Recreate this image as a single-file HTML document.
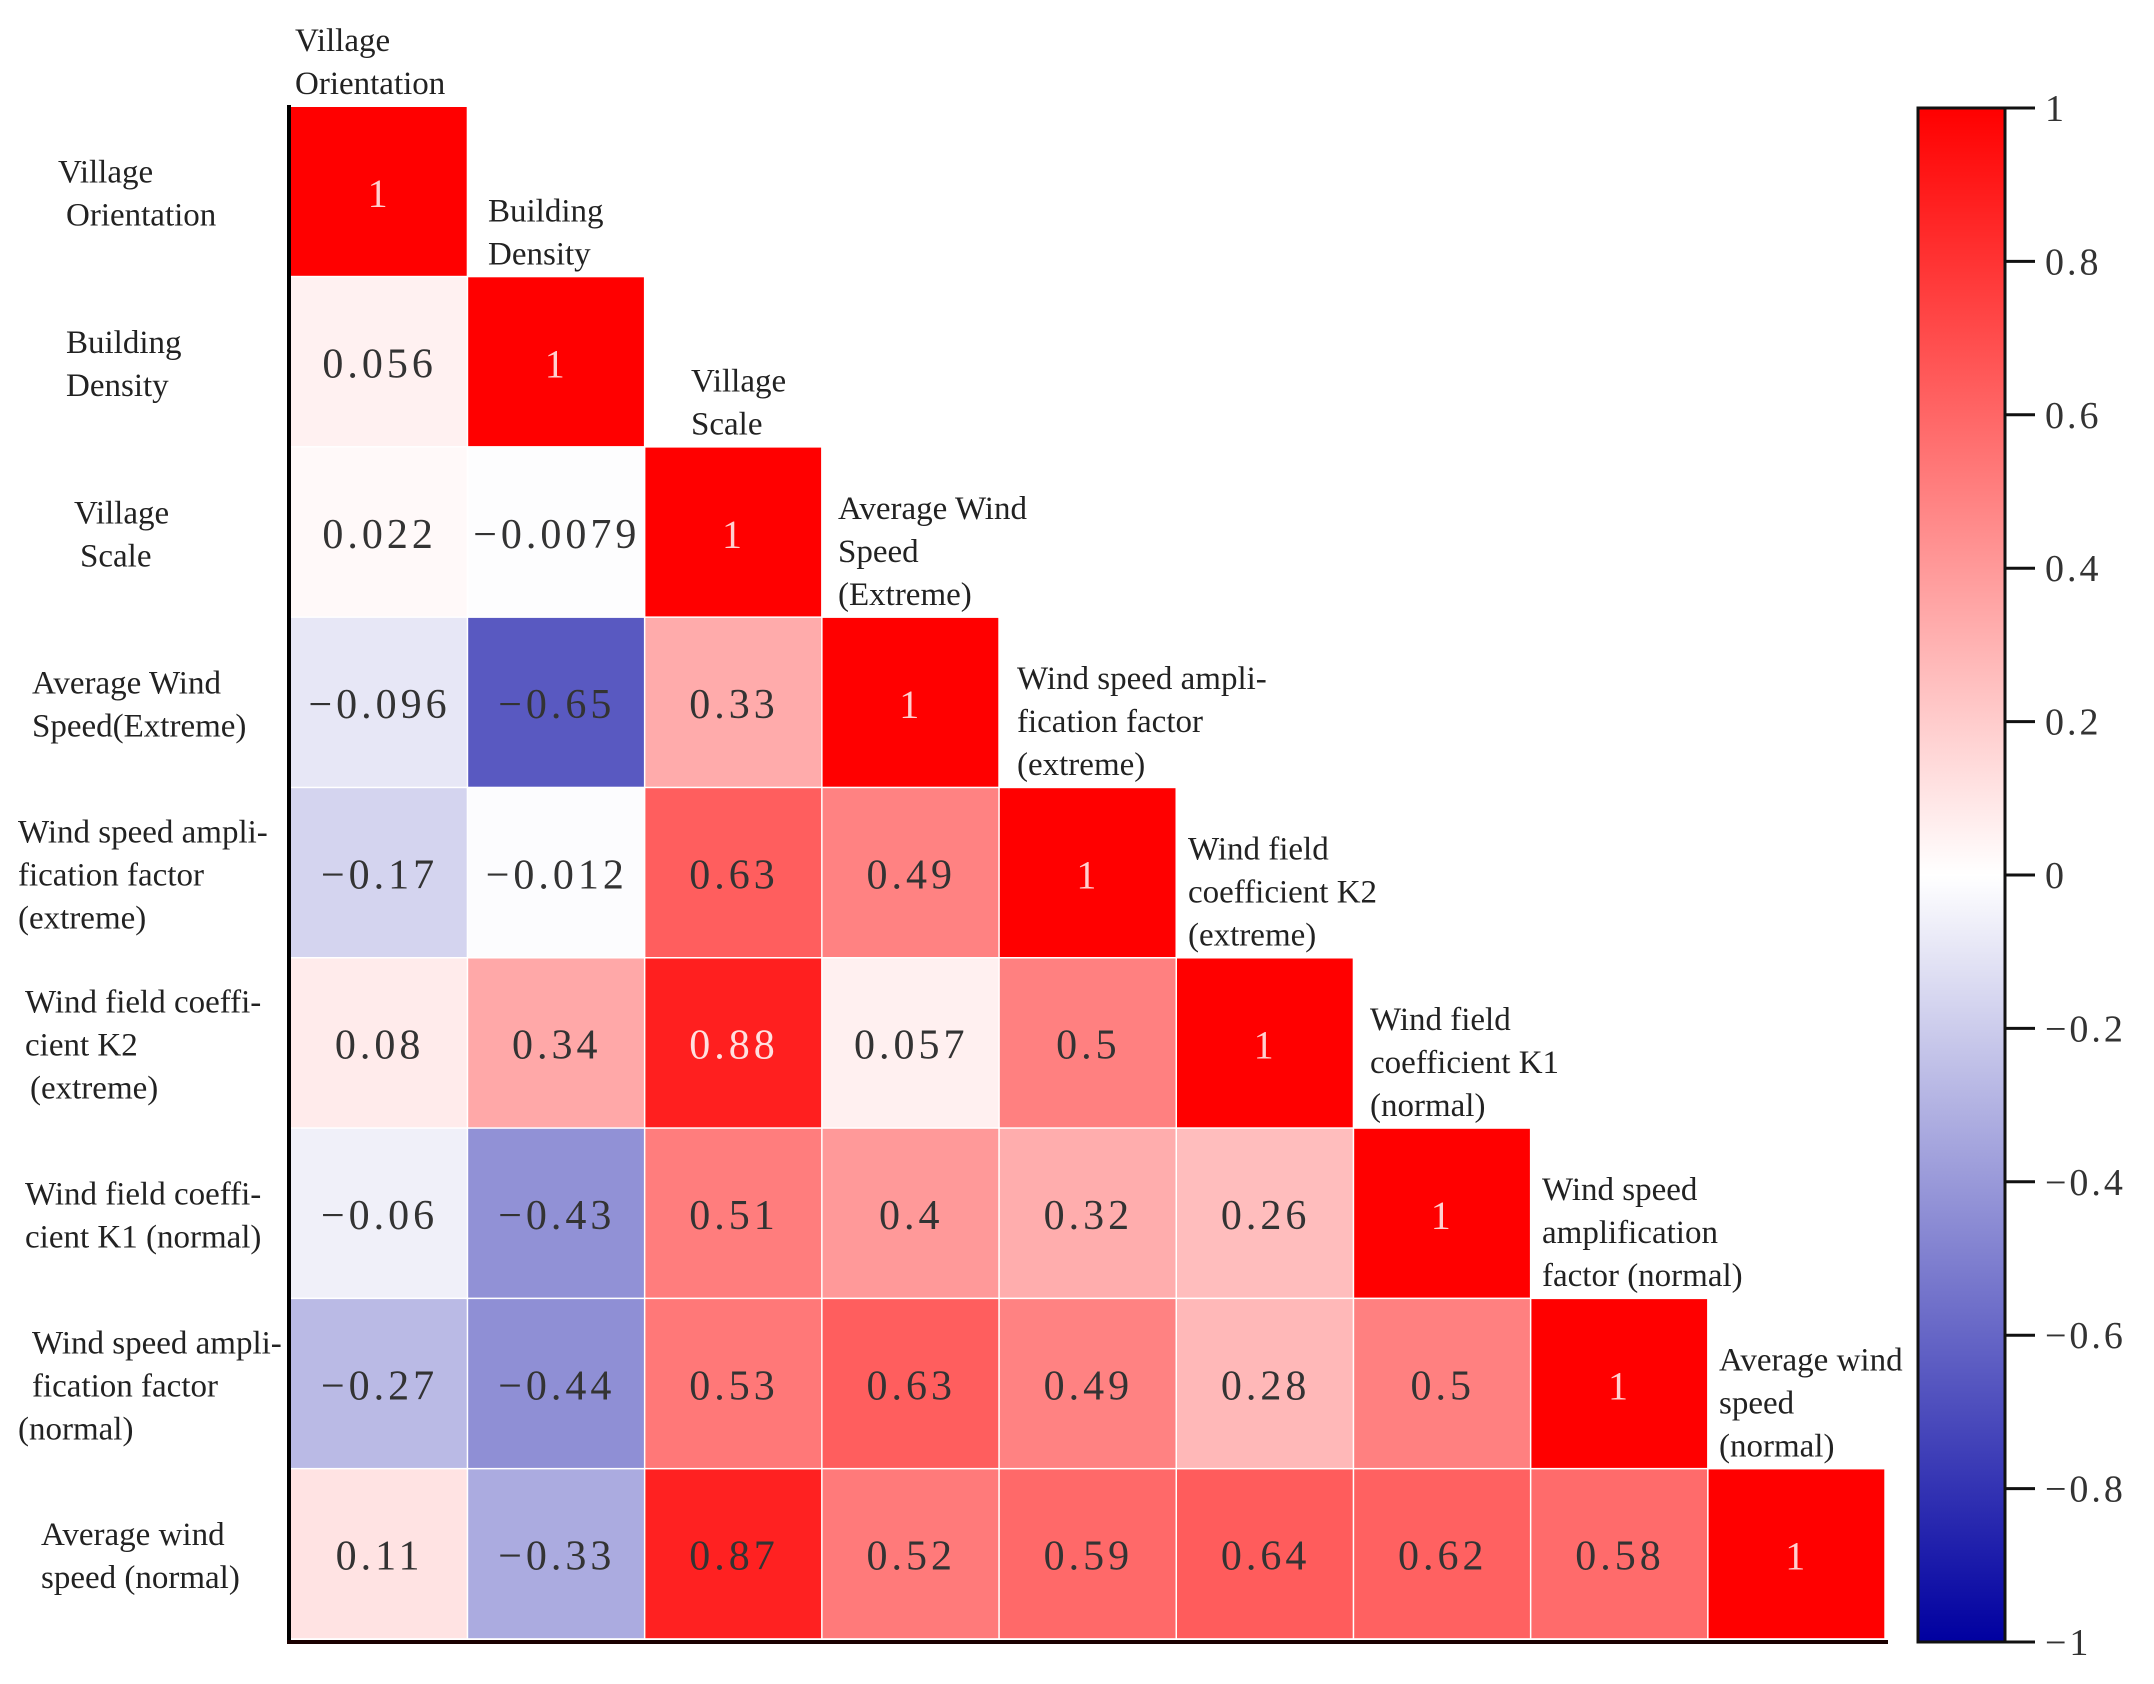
<!DOCTYPE html>
<html><head><meta charset="utf-8"><style>
html,body{margin:0;padding:0;background:#fff;}
svg{display:block;}
text{font-family:"Liberation Serif",serif;}
</style></head><body>
<svg id="chart" width="2154" height="1684" viewBox="0 0 2154 1684" xmlns="http://www.w3.org/2000/svg">
<defs>
<linearGradient id="cbgrad" x1="0" y1="0" x2="0" y2="1">
<stop offset="0" stop-color="#ff0000"/>
<stop offset="0.5" stop-color="#ffffff"/>
<stop offset="1" stop-color="#0000a0"/>
</linearGradient>
</defs>
<g id="cells"></g>
<g id="rowlabels"></g>
<g id="collabels"></g>
<line x1="289" y1="105" x2="289" y2="1644" stroke="#000" stroke-width="4"/>
<line x1="287" y1="1642" x2="1888" y2="1642" stroke="#1a0000" stroke-width="4"/>
<g id="colorbar"></g>
</svg>
<script>
const variables = ["Village Orientation","Building Density","Village Scale","Average Wind Speed (Extreme)","Wind speed amplification factor (extreme)","Wind field coefficient K2 (extreme)","Wind field coefficient K1 (normal)","Wind speed amplification factor (normal)","Average wind speed (normal)"];
const row1 = [0.056];
const row2 = [0.022, -0.0079];
const row3 = [-0.096, -0.65, 0.33];
const row4 = [-0.17, -0.012, 0.63, 0.49];
const row5 = [0.08, 0.34, 0.88, 0.057, 0.5];
const row6 = [-0.06, -0.43, 0.51, 0.4, 0.32, 0.26];
const row7 = [-0.27, -0.44, 0.53, 0.63, 0.49, 0.28, 0.5];
const row8 = [0.11, -0.33, 0.87, 0.52, 0.59, 0.64, 0.62, 0.58];
const offDiagonalRows = [[], row1, row2, row3, row4, row5, row6, row7, row8];
const colorbarTicks = [1, 0.8, 0.6, 0.4, 0.2, 0, -0.2, -0.4, -0.6, -0.8, -1];

const rowLabelLines = [
 [["Village",58],["Orientation",66]],
 [["Building",66],["Density",66]],
 [["Village",74],["Scale",80]],
 [["Average Wind",32],["Speed(Extreme)",32]],
 [["Wind speed ampli-",18],["fication factor",18],["(extreme)",18]],
 [["Wind field coeffi-",25],["cient K2",25],[" (extreme)",30]],
 [["Wind field coeffi-",25],["cient K1 (normal)",25]],
 [["Wind speed ampli-",32],["fication factor",32],["(normal)",18]],
 [["Average wind",41],["speed (normal)",41]]
];
const colLabelLines = [
 ["Village","Orientation"],
 ["Building","Density"],
 ["Village","Scale"],
 ["Average Wind","Speed","(Extreme)"],
 ["Wind speed ampli-","fication factor","(extreme)"],
 ["Wind field","coefficient K2"," (extreme)"],
 ["Wind field","coefficient K1","(normal)"],
 ["Wind speed","amplification","factor (normal)"],
 ["Average wind","speed","(normal)"]
];
const colLabelX = [295, 488, 691, 838, 1017, 1188, 1370, 1542, 1719];

const NS = "http://www.w3.org/2000/svg";
const X0 = 291, Y0 = 107, CW = 177.2, CH = 170.3;
function xPos(j){ return X0 + j*CW; }
function yPos(i){ return Y0 + i*CH; }
function color(v){
  if (v >= 0){ const g = Math.round(255*(1-v)); return `rgb(255,${g},${g})`; }
  const a = -v; const rg = Math.round(255*(1-a)); const b = Math.round(255 - a*95);
  return `rgb(${rg},${rg},${b})`;
}
function fmt(v){ return v < 0 ? "\u2212" + String(-v) : String(v); }
function mk(tag, attrs, parent){ const e = document.createElementNS(NS, tag); for (const k in attrs) e.setAttribute(k, attrs[k]); parent.appendChild(e); return e; }

const cells = document.getElementById("cells");
for (let i = 0; i < variables.length; i++){
  const vals = offDiagonalRows[i].concat([1]);
  for (let j = 0; j < vals.length; j++){
    const v = vals[j];
    const r = mk("rect", {x: xPos(j), y: yPos(i), width: CW - 1.5, height: CH - 1.5, fill: color(v)}, cells);
    
    
    const light = v >= 0.88;
    const t = mk("text", {x: xPos(j) + CW/2, y: yPos(i) + CH/2 + 15, "text-anchor": "middle", "font-size": light && v === 1 ? 40 : 42, "letter-spacing": 4, fill: light ? (v === 1 ? "#ffd0d0" : "#ffe0e0") : "#333"}, cells);
    t.textContent = fmt(v);
    
    
  }
}

const rl = document.getElementById("rowlabels");
rowLabelLines.forEach((lines, i) => {
  const cy = yPos(i) + CH/2;
  const n = lines.length, lh = 43;
  lines.forEach((ln, k) => {
    const t = mk("text", {x: ln[1], y: cy + (k - (n-1)/2)*lh + 12, "font-size": 33, fill: "#222"}, rl);
    t.textContent = ln[0];
    
    
  });
});

const cl = document.getElementById("collabels");
colLabelLines.forEach((lines, j) => {
  const bottom = yPos(j) - 9;
  const n = lines.length, lh = 43;
  lines.forEach((ln, k) => {
    const t = mk("text", {x: colLabelX[j], y: bottom - (n-1-k)*lh - 4, "font-size": 33, fill: "#222"}, cl);
    t.textContent = ln;
    
    
  });
});

const cb = document.getElementById("colorbar");
const CBX = 1918, CBW = 87, CBT = 108, CBB = 1642;
function cbY(v){ return CBT + (1 - v)/2*(CBB - CBT); }
const bar = mk("rect", {x: CBX, y: CBT, width: CBW, height: CBB - CBT, fill: "url(#cbgrad)", stroke: "#111", "stroke-width": 3}, cb);


colorbarTicks.forEach(v => {
  const y = cbY(v);
  const tk = mk("line", {x1: CBX + CBW, y1: y, x2: CBX + CBW + 30, y2: y, stroke: "#111", "stroke-width": 3}, cb);
  
  
  const t = mk("text", {x: CBX + CBW + 40, y: y + 13, "font-size": 38, "letter-spacing": 3, fill: "#333"}, cb);
  t.textContent = fmt(v);
  
  
});
</script>
</body></html>
